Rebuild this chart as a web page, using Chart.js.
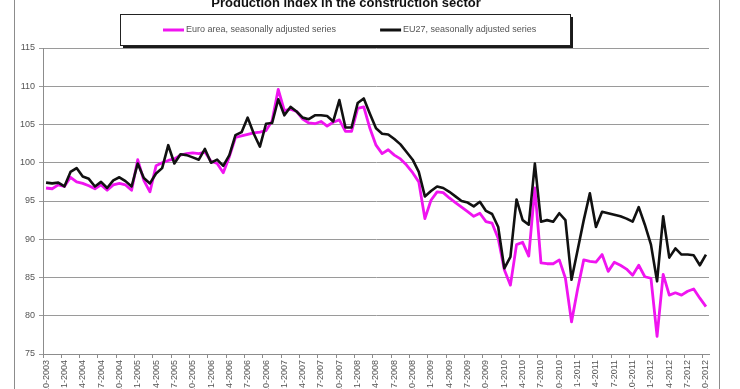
<!DOCTYPE html>
<html>
<head>
<meta charset="utf-8">
<script src="https://cdn.jsdelivr.net/npm/chart.js@4/dist/chart.umd.min.js"></script>
<style>
  html, body { margin: 0; padding: 0; background: #fff; overflow: hidden; width: 740px; height: 389px; }
  #wrap { position: absolute; left: 0; top: 0; width: 740px; height: 420px; }
</style>
</head>
<body>
<div id="wrap"><canvas id="c" width="740" height="420"></canvas></div>
<script>
const chartTitle = 'Production index in the construction sector';

const months = [
  '10-2003','11-2003','12-2003',
  '1-2004','2-2004','3-2004','4-2004','5-2004','6-2004','7-2004','8-2004','9-2004','10-2004','11-2004','12-2004',
  '1-2005','2-2005','3-2005','4-2005','5-2005','6-2005','7-2005','8-2005','9-2005','10-2005','11-2005','12-2005',
  '1-2006','2-2006','3-2006','4-2006','5-2006','6-2006','7-2006','8-2006','9-2006','10-2006','11-2006','12-2006',
  '1-2007','2-2007','3-2007','4-2007','5-2007','6-2007','7-2007','8-2007','9-2007','10-2007','11-2007','12-2007',
  '1-2008','2-2008','3-2008','4-2008','5-2008','6-2008','7-2008','8-2008','9-2008','10-2008','11-2008','12-2008',
  '1-2009','2-2009','3-2009','4-2009','5-2009','6-2009','7-2009','8-2009','9-2009','10-2009','11-2009','12-2009',
  '1-2010','2-2010','3-2010','4-2010','5-2010','6-2010','7-2010','8-2010','9-2010','10-2010','11-2010','12-2010',
  '1-2011','2-2011','3-2011','4-2011','5-2011','6-2011','7-2011','8-2011','9-2011','10-2011','11-2011','12-2011',
  '1-2012','2-2012','3-2012','4-2012','5-2012','6-2012','7-2012','8-2012','9-2012','10-2012'
];

const euroAreaLabel = 'Euro area, seasonally adjusted series';
const euroArea = [
  96.7, 96.6, 97.1,
  96.9, 98.1, 97.5, 97.3, 97.0, 96.6, 97.1, 96.4, 97.1, 97.3, 97.1, 96.4,
  100.4, 97.7, 96.2, 99.6, 100.0, 100.3, 100.5, 101.0, 101.2, 101.3, 101.2, 101.4,
  100.2, 99.9, 98.7, 100.8, 103.3, 103.5, 103.7, 103.9, 104.0, 104.2, 105.5, 109.6,
  106.8, 107.0, 106.7, 105.7, 105.2, 105.1, 105.4, 104.8, 105.3, 105.6, 104.1, 104.1,
  107.1, 107.3, 104.5, 102.3, 101.2, 101.7, 101.0, 100.5, 99.7, 98.7, 97.5, 92.7,
  95.1, 96.2, 96.1, 95.4, 94.8, 94.2, 93.6, 93.0, 93.4, 92.3, 92.1, 90.1,
  86.0, 84.0, 89.3, 89.6, 87.8, 96.7, 86.9, 86.8, 86.8, 87.3, 84.9, 79.2,
  83.5, 87.3, 87.1, 87.0, 88.0, 85.8, 87.0, 86.6, 86.1, 85.3, 86.6, 85.1,
  84.9, 77.3, 85.4, 82.7, 83.0, 82.7, 83.2, 83.5, 82.3, 81.2
];

const eu27Label = 'EU27, seasonally adjusted series';
const eu27 = [
  97.4, 97.3, 97.4,
  96.9, 98.8, 99.3, 98.2, 97.9, 96.9, 97.5, 96.7, 97.7, 98.1, 97.6, 96.9,
  99.9, 98.0, 97.3, 98.6, 99.3, 102.3, 99.9, 101.1, 101.0, 100.7, 100.4, 101.8,
  100.0, 100.4, 99.6, 101.0, 103.6, 104.0, 105.9, 103.8, 102.1, 105.1, 105.2, 108.3,
  106.2, 107.3, 106.7, 105.9, 105.7, 106.2, 106.2, 106.1, 105.4, 108.2, 104.6, 104.6,
  107.8, 108.4, 106.4, 104.5, 103.8, 103.7, 103.1, 102.4, 101.4, 100.4, 98.8, 95.6,
  96.3, 96.9, 96.7, 96.2, 95.6, 95.0, 94.8, 94.3, 94.9, 93.7, 93.3, 91.6,
  86.2, 87.7, 95.2, 92.5, 91.9, 99.9, 92.3, 92.5, 92.3, 93.4, 92.5, 84.7,
  88.6, 92.5, 96.0, 91.6, 93.6, 93.4, 93.2, 93.0, 92.7, 92.3, 94.2, 91.9,
  89.3, 84.5, 93.0, 87.6, 88.8, 88.0, 88.0, 87.9, 86.6, 88.0
];

const yMin = 75, yMax = 115, yStep = 5;

const FONT = '"Liberation Sans", Arial, sans-serif';

const decorPlugin = {
  id: 'decor',
  beforeDraw(chart) {
    const c = chart.ctx;
    c.save();
    c.fillStyle = '#ffffff';
    c.fillRect(0, 0, chart.width, chart.height);
    c.restore();
  },
  afterDraw(chart) {
    const c = chart.ctx;
    c.save();
    // outer frame lines
    c.strokeStyle = '#8c8c8c';
    c.lineWidth = 1;
    c.beginPath();
    c.moveTo(14.5, 0); c.lineTo(14.5, chart.height);
    c.moveTo(719.5, 0); c.lineTo(719.5, chart.height);
    c.stroke();

    // title (cut at the top, as in the reference)
    c.font = 'bold 13px ' + FONT;
    c.fillStyle = '#111';
    c.textAlign = 'center';
    c.textBaseline = 'alphabetic';
    c.fillText(chartTitle, 346, 7);

    // legend box with shadow
    const bx = 120, by = 14, bw = 450, bh = 31;
    c.fillStyle = '#1a1a1a';
    c.fillRect(bx + 3, by + 3, bw, bh);
    c.fillStyle = '#ffffff';
    c.fillRect(bx, by, bw, bh);
    c.strokeStyle = '#222';
    c.lineWidth = 1;
    c.strokeRect(bx + 0.5, by + 0.5, bw, bh);

    c.font = '9px ' + FONT;
    c.textAlign = 'left';
    c.textBaseline = 'middle';
    let x = 163;
    const yMid = by + bh / 2 + 0.5;
    chart.data.datasets.forEach((ds) => {
      c.strokeStyle = ds.borderColor;
      c.lineWidth = 3;
      c.beginPath();
      c.moveTo(x, yMid); c.lineTo(x + 21, yMid);
      c.stroke();
      c.fillStyle = '#555';
      c.fillText(ds.label, x + 23, yMid);
      x += 23 + c.measureText(ds.label).width + 44;
    });
    c.restore();
  }
};

new Chart(document.getElementById('c'), {
  type: 'line',
  data: {
    labels: months,
    datasets: [
      {
        label: euroAreaLabel,
        data: euroArea,
        borderColor: '#f014f0',
        backgroundColor: '#f014f0',
        borderWidth: 2.8,
        pointRadius: 0,
        tension: 0,
        borderJoinStyle: 'round',
        order: 1
      },
      {
        label: eu27Label,
        data: eu27,
        borderColor: '#111111',
        backgroundColor: '#111111',
        borderWidth: 2.6,
        pointRadius: 0,
        tension: 0,
        borderJoinStyle: 'round',
        order: 0
      }
    ]
  },
  options: {
    responsive: false,
    animation: false,
    devicePixelRatio: 1,
    layout: { padding: { left: 0, right: 31, top: 48, bottom: 0 } },
    plugins: {
      legend: { display: false },
      title: { display: false },
      tooltip: { enabled: false }
    },
    scales: {
      x: {
        offset: true,
        grid: {
          offset: true,
          drawOnChartArea: false,
          drawTicks: true,
          tickLength: 4,
          color: (ctx) => (ctx.index % 3 === 0 ? '#8c8c8c' : 'rgba(0,0,0,0)')
        },
        border: { display: true, color: '#8c8c8c' },
        ticks: {
          autoSkip: false,
          minRotation: 90,
          maxRotation: 90,
          padding: 2,
          color: '#555',
          font: { size: 9, family: FONT },
          callback: function (value, index) {
            return index % 3 === 0 ? this.getLabelForValue(value) : '';
          }
        },
        afterFit: (scale) => { scale.height = 420 - 354; }
      },
      y: {
        min: yMin,
        max: yMax,
        grid: {
          color: '#9a9a9a',
          lineWidth: 1,
          drawTicks: true,
          tickLength: 4
        },
        border: { display: true, color: '#8c8c8c' },
        ticks: {
          stepSize: yStep,
          padding: 4,
          color: '#555',
          font: { size: 9, family: FONT }
        },
        afterFit: (scale) => { scale.width = 43; }
      }
    }
  },
  plugins: [decorPlugin]
});
</script>
</body>
</html>
